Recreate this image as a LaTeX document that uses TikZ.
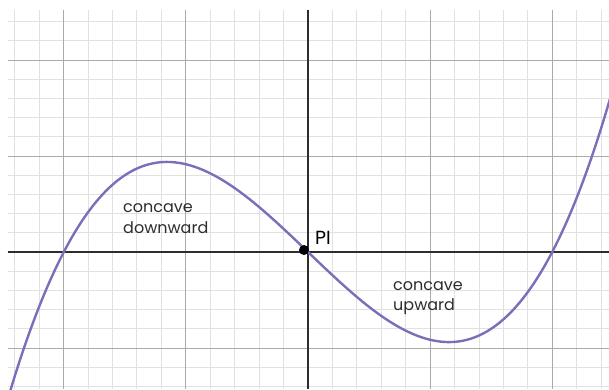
\documentclass[tikz,border=0pt]{standalone}
\usepackage{fontspec}
\setmainfont{Poppins}
\definecolor{curvepurple}{RGB}{125,110,185}
\definecolor{minorgrid}{RGB}{225,225,225}
\definecolor{majorgrid}{RGB}{170,170,170}
\definecolor{axiscol}{RGB}{45,45,45}
\definecolor{textcol}{RGB}{45,45,45}
\begin{document}
\begin{tikzpicture}[x=1pt,y=-1pt,
  minorline/.style={draw=minorgrid,line width=1pt},
  majorline/.style={draw=majorgrid,line width=1pt},
  axisline/.style={draw=axiscol,line width=1.4pt},
  curveline/.style={draw=curvepurple,line width=2.4pt},
  labeltext/.style={anchor=base west,inner sep=0pt,text=textcol,font=\fontsize{16}{19}\selectfont},
  pitext/.style={anchor=base west,inner sep=0pt,text=black,font=\fontsize{19}{22}\selectfont}]
\useasboundingbox (0,0) rectangle (609,389);
\fill[white] (0,0) rectangle (609,389);
\begin{scope}
\clip (7.5,9.5) rectangle (609,389);
% minor grid
\foreach \k in {-13,...,13} {
  \draw[minorline] ({308+24.44*\k},9.5) -- ({308+24.44*\k},389);
}
\foreach \k in {-13,...,8} {
  \draw[minorline] (7.5,{252+19.2*\k}) -- (609,{252+19.2*\k});
}
% major grid
\foreach \k in {-3,...,3} {
  \draw[majorline] ({308+122.2*\k},9.5) -- ({308+122.2*\k},389);
}
\foreach \k in {-3,...,2} {
  \draw[majorline] (7.5,{252+96*\k}) -- (609,{252+96*\k});
}
% axes
\coordinate (xl) at (7.5,252);
\coordinate (xr) at (609,252);
\coordinate (yt) at (308,9.5);
\coordinate (yb) at (308,389);
\draw[axisline] (xl) -- (xr);
\draw[axisline] (yt) -- (yb);
% curve
\draw[curveline,samples=200,domain=5:612,smooth]
  plot (\x,{252-234*((\x-308)/244.2)*(((\x-308)/244.2)*((\x-308)/244.2)-1)});
\end{scope}
% point of inflection
\node[circle,fill=black,inner sep=0pt,minimum size=10pt] (pi) at (304,250) {};
\node[pitext] (pilabel) at (315,244.5) {PI};
\node[labeltext] (cd1) at (123,212.5) {concave};
\node[labeltext] (cd2) at (123,233) {downward};
\node[labeltext] (cu1) at (393,290.5) {concave};
\node[labeltext] (cu2) at (393,310) {upward};
\end{tikzpicture}
\end{document}
